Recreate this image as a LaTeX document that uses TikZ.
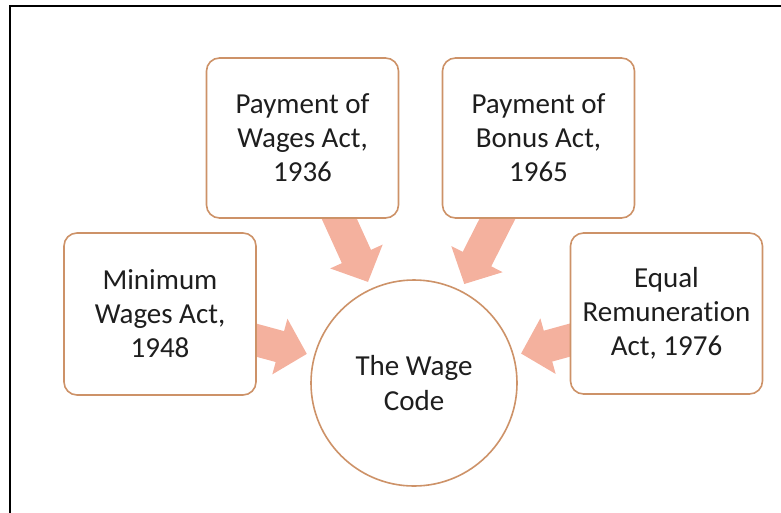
\documentclass[tikz,border=0pt]{standalone}
\usepackage{fontspec}
\setmainfont{Carlito}[RawFeature=-liga]
\usetikzlibrary{arrows.meta,backgrounds}
\definecolor{arrowc}{RGB}{244,177,158}
\definecolor{boxc}{RGB}{205,146,104}
\definecolor{txtc}{RGB}{30,30,30}
\begin{document}
\begin{tikzpicture}[x=1pt,y=-1pt,
  actbox/.style={draw=boxc, line width=1.6pt, fill=white, rounded corners=13pt,
    minimum width=192pt, minimum height=160pt, align=center, text=txtc,
    font=\fontsize{29}{34}\selectfont, inner sep=0pt},
  hub/.style={circle, draw=boxc, line width=1.6pt, fill=white, minimum size=206pt,
    align=center, text=txtc, font=\fontsize{29}{35}\selectfont, inner sep=0pt},
  flow/.style={draw=arrowc, line width=32pt, -{Triangle[width=56pt,length=28pt,fill=arrowc]}, shorten >=111pt}
]
\useasboundingbox (0,0) rectangle (781,512);
\draw[line width=2.5pt, black] (10,513) -- (10,6) -- (782,6);

\node[hub] (code) at (414,383) {The Wage\\Code};
\node[actbox] (wages) at (302.5,138) {Payment of\\Wages Act,\\1936};
\node[actbox] (bonus) at (538.5,138) {Payment of\\Bonus Act,\\1965};
\node[actbox, minimum height=162pt] (min) at (160,314) {Minimum\\Wages Act,\\1948};
\node[actbox, minimum height=161pt] (equal) at (666.5,313.5) {Equal\\Remuneration\\Act, 1976};

\begin{scope}[on background layer]
  \draw[flow] (wages.center) -- (code.center);
  \draw[flow] (bonus.center) -- (code.center);
  \draw[flow] (min.center) -- (code.center);
  \draw[flow] (equal.center) -- (code.center);
\end{scope}
\end{tikzpicture}
\end{document}
